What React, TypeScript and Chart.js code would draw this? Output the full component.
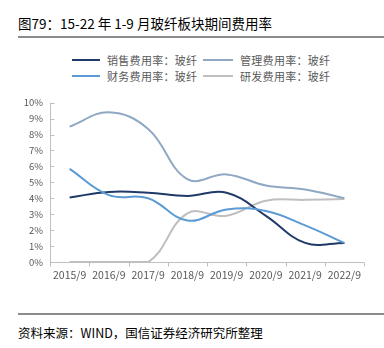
import React, { useEffect, useRef } from "react";
import { Chart, registerables } from "chart.js";

Chart.register(...registerables);

const categories = ["2015/9", "2016/9", "2017/9", "2018/9", "2019/9", "2020/9", "2021/9", "2022/9"];
const salesRate = [4.05, 4.4, 4.35, 4.15, 4.35, 2.9, 1.2, 1.2];
const adminRate = [8.5, 9.4, 8.35, 5.2, 5.5, 4.8, 4.55, 4.0];
const financeRate = [5.85, 4.2, 4.0, 2.6, 3.3, 3.2, 2.3, 1.2];
const rdRate = [0, 0, 0, 3.05, 2.9, 3.85, 3.9, 3.95];
const seriesNames = ["销售费用率：玻纤", "管理费用率：玻纤", "财务费用率：玻纤", "研发费用率：玻纤"];
const seriesColors = ["#1F3A68", "#8FA9C4", "#5B9BD5", "#BFBFBF"];

const FONT = '"Noto Sans CJK SC", "Noto Sans", sans-serif';
const AXIS = "#BFBFBF";

const axisPlugin = {
  id: "axisDraw",
  afterDatasetsDraw(chart: any) {
    const { ctx, chartArea, scales } = chart;
    const y = scales.y;
    ctx.save();
    ctx.strokeStyle = AXIS;
    ctx.lineWidth = 1;
    ctx.beginPath();
    const ax = Math.round(chartArea.left) + 0.5;
    ctx.moveTo(ax, chartArea.top);
    ctx.lineTo(ax, chartArea.bottom);
    for (let v = 0; v <= 10; v++) {
      const py = Math.round(y.getPixelForValue(v)) + 0.5;
      ctx.moveTo(ax, py);
      ctx.lineTo(ax + 4, py);
    }
    const by = Math.round(chartArea.bottom) + 0.5;
    ctx.moveTo(chartArea.left, by);
    ctx.lineTo(chartArea.right, by);
    const n = categories.length;
    for (let i = 0; i <= n; i++) {
      const px = Math.round(chartArea.left + ((chartArea.right - chartArea.left) * i) / n) + 0.5;
      ctx.moveTo(px, by);
      ctx.lineTo(px, by + 4);
    }
    ctx.stroke();
    ctx.restore();
  },
};

function ChartView() {
  const ref = useRef<HTMLCanvasElement | null>(null);
  useEffect(() => {
    if (!ref.current) return;
    const data = [salesRate, adminRate, financeRate, rdRate];
    const chart = new Chart(ref.current, {
      type: "line",
      data: {
        labels: categories,
        datasets: data.map((d, i) => ({
          label: seriesNames[i],
          data: d,
          borderColor: seriesColors[i],
          backgroundColor: seriesColors[i],
          borderWidth: 2,
          pointRadius: 0,
          tension: 0.4,
          fill: false,
          order: [1, 2, 0, 3][i],
        })),
      },
      options: {
        responsive: false,
        animation: false,
        devicePixelRatio: 1,
        layout: { padding: { left: 0, right: 20, top: 10, bottom: 0 } },
        plugins: { legend: { display: false }, tooltip: { enabled: false } },
        scales: {
          x: {
            type: "category",
            offset: true,
            grid: { display: false, drawTicks: false },
            border: { display: false },
            ticks: {
              color: "#595959",
              font: { family: FONT, size: 10.5 },
              maxRotation: 0,
              autoSkip: false,
              padding: 7,
            },
            afterFit: (s: any) => {
              s.height = 28;
            },
          },
          y: {
            min: 0,
            max: 10,
            grid: { display: false, drawTicks: false },
            border: { display: false },
            ticks: {
              stepSize: 1,
              color: "#595959",
              font: { family: FONT, size: 9.5 },
              padding: 7,
              callback: (v: any) => v + "%",
            },
            afterFit: (s: any) => {
              s.width = 50;
            },
          },
        },
      },
      plugins: [axisPlugin],
    } as any);
    return () => chart.destroy();
  }, []);
  return <canvas ref={ref} width={384} height={200} style={{ display: "block" }} />;
}

function LegendItem({ i, left, top }: { i: number; left: number; top: number }) {
  return (
    <div style={{ position: "absolute", left, top, height: 16, display: "flex", alignItems: "center" }}>
      <div style={{ width: i % 2 === 0 ? 28 : 30, height: 2, background: seriesColors[i] }} />
      <span
        style={{
          marginLeft: 7,
          fontSize: 11,
          letterSpacing: 0.3,
          color: "#595959",
          fontFamily: FONT,
          whiteSpace: "nowrap",
          lineHeight: "16px",
        }}
      >
        {seriesNames[i]}
      </span>
    </div>
  );
}

export default function App() {
  return (
    <div
      style={{
        position: "absolute",
        left: 0,
        top: 0,
        width: 384,
        height: 348,
        background: "#fff",
        fontFamily: FONT,
        overflow: "hidden",
      }}
    >
      <div
        style={{
          position: "absolute",
          left: 18,
          top: 14,
          fontSize: 13.5,
          color: "#000",
          whiteSpace: "nowrap",
          lineHeight: "18px",
        }}
      >
        图79：15-22 年 1-9 月玻纤板块期间费用率
      </div>
      <div style={{ position: "absolute", left: 18, top: 36, width: 366, height: 2, background: "#8C8C8C" }} />
      <LegendItem i={0} left={72} top={52} />
      <LegendItem i={1} left={203} top={52} />
      <LegendItem i={2} left={72} top={68} />
      <LegendItem i={3} left={203} top={68} />
      <div style={{ position: "absolute", left: 0, top: 90, width: 384, height: 200 }}>
        <ChartView />
      </div>
      <div style={{ position: "absolute", left: 18, top: 313, width: 366, height: 2, background: "#8C8C8C" }} />
      <div
        style={{
          position: "absolute",
          left: 18,
          top: 324,
          fontSize: 12.5,
          color: "#000",
          whiteSpace: "nowrap",
          lineHeight: "18px",
        }}
      >
        资料来源：WIND，国信证券经济研究所整理
      </div>
    </div>
  );
}
